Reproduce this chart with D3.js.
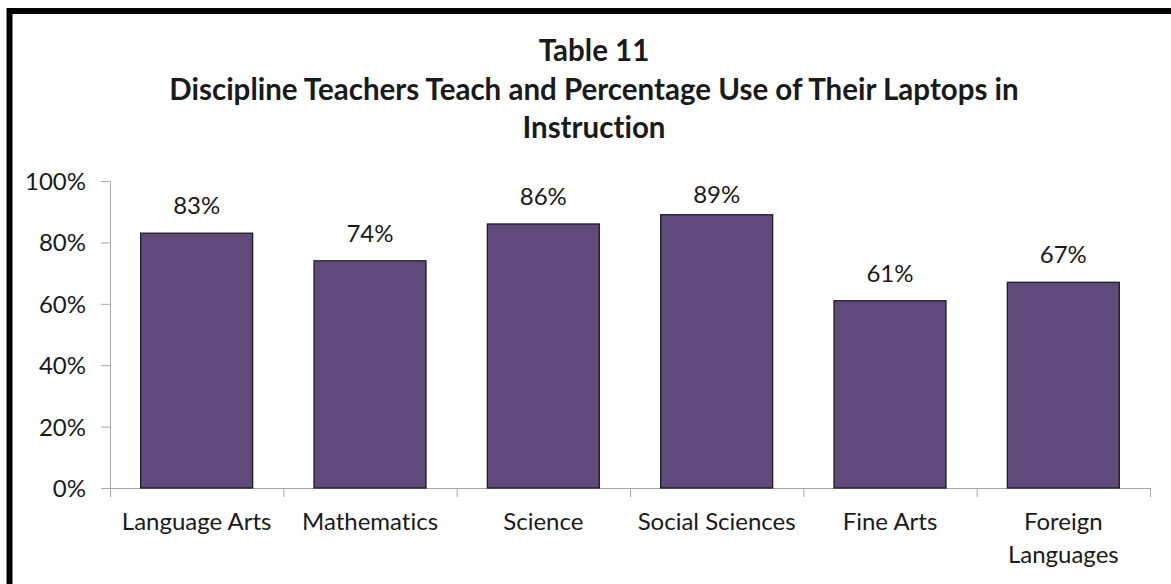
<!DOCTYPE html>
<html>
<head>
<meta charset="utf-8">
<script src="https://cdn.jsdelivr.net/npm/d3@7"></script>
<style>
  body { margin: 0; background: #fff; }
  svg text { font-family: Lato, "Open Sans", sans-serif; fill: #1a1a1a; font-variant-ligatures: none; }
  .axis path, .axis line { stroke: #a6a6a6; }
</style>
</head>
<body>
<div id="chart"></div>
<script>
// Data
var categories = ["Language Arts", "Mathematics", "Science", "Social Sciences", "Fine Arts", "Foreign Languages"];
var values = [0.83, 0.74, 0.86, 0.89, 0.61, 0.67];
var yTicks = [0, 0.2, 0.4, 0.6, 0.8, 1.0];
var titleLines = ["Table 11", "Discipline Teachers Teach and Percentage Use of Their Laptops in", "Instruction"];

var width = 1171, height = 584;
var plot = {left: 110, right: 1150, top: 181, bottom: 488};
var barColor = "#5f4a7b";
var labelSize = "24px";

var svg = d3.select("#chart")
  .append("svg")
  .attr("width", width)
  .attr("height", height);

// outer frame (runs off the right and bottom edges)
svg.append("rect")
  .attr("x", 9.5)
  .attr("y", 11)
  .attr("width", width + 20)
  .attr("height", height + 20)
  .attr("fill", "#fff")
  .attr("stroke", "#000")
  .attr("stroke-width", 6);

// title
svg.append("g")
  .selectAll("text")
  .data(titleLines)
  .enter()
  .append("text")
  .attr("x", 594)
  .attr("y", function (d, i) { return 61 + i * 38.5; })
  .attr("text-anchor", "middle")
  .style("font-weight", "bold")
  .style("font-size", "29.5px")
  .text(function (d) { return d; });

// scales
var xScale = d3.scaleBand()
  .domain(categories)
  .range([plot.left, plot.right])
  .paddingInner(0.354)
  .paddingOuter(0.177);

var yScale = d3.scaleLinear()
  .domain([0, 1])
  .range([plot.bottom, plot.top]);

var xEdge = d3.scaleLinear()
  .domain([0, categories.length])
  .range([plot.left, plot.right]);

// y axis
var yAxis = d3.axisLeft(yScale)
  .tickValues(yTicks)
  .tickSize(9)
  .tickPadding(15)
  .tickSizeOuter(0)
  .tickFormat(d3.format(".0%"));

svg.append("g")
  .attr("class", "y axis")
  .attr("transform", "translate(" + plot.left + ",0)")
  .call(yAxis)
  .selectAll("text")
  .style("font-size", labelSize)
  .attr("dy", "0.35em");

// x axis (ticks at category boundaries)
var xAxis = d3.axisBottom(xEdge)
  .tickValues(d3.range(categories.length + 1))
  .tickSize(9)
  .tickSizeOuter(0)
  .tickFormat("");

svg.append("g")
  .attr("class", "x axis")
  .attr("transform", "translate(0," + plot.bottom + ")")
  .call(xAxis);

// bars
svg.append("g")
  .selectAll("rect")
  .data(values)
  .enter()
  .append("rect")
  .attr("x", function (d, i) { return xScale(categories[i]); })
  .attr("y", function (d) { return yScale(d); })
  .attr("width", xScale.bandwidth())
  .attr("height", function (d) { return plot.bottom - yScale(d); })
  .attr("fill", barColor)
  .attr("stroke", "#1e1e1e")
  .attr("stroke-width", 1.3);

// value labels, kept inside the plot area
svg.append("g")
  .selectAll("text")
  .data(values)
  .enter()
  .append("text")
  .attr("x", function (d, i) { return xScale(categories[i]) + xScale.bandwidth() / 2; })
  .attr("y", function (d) { return Math.max(yScale(d) - 19, plot.top + 22); })
  .attr("text-anchor", "middle")
  .style("font-size", labelSize)
  .text(function (d) { return d3.format(".0%")(d); });

// category labels, wrapped to the band width
var catLabels = svg.append("g")
  .selectAll("text")
  .data(categories)
  .enter()
  .append("text")
  .attr("x", function (d) { return xScale(d) + xScale.bandwidth() / 2; })
  .attr("y", 530)
  .attr("text-anchor", "middle")
  .style("font-size", labelSize)
  .text(function (d) { return d; });

catLabels.each(function (d) {
  var text = d3.select(this);
  if (this.getComputedTextLength() <= xScale.step() - 4) return;
  var words = d.split(" ");
  var x = text.attr("x");
  text.text(null);
  words.forEach(function (w, i) {
    text.append("tspan")
      .attr("x", x)
      .attr("dy", i === 0 ? 0 : 32.5)
      .text(w);
  });
});
</script>
</body>
</html>
